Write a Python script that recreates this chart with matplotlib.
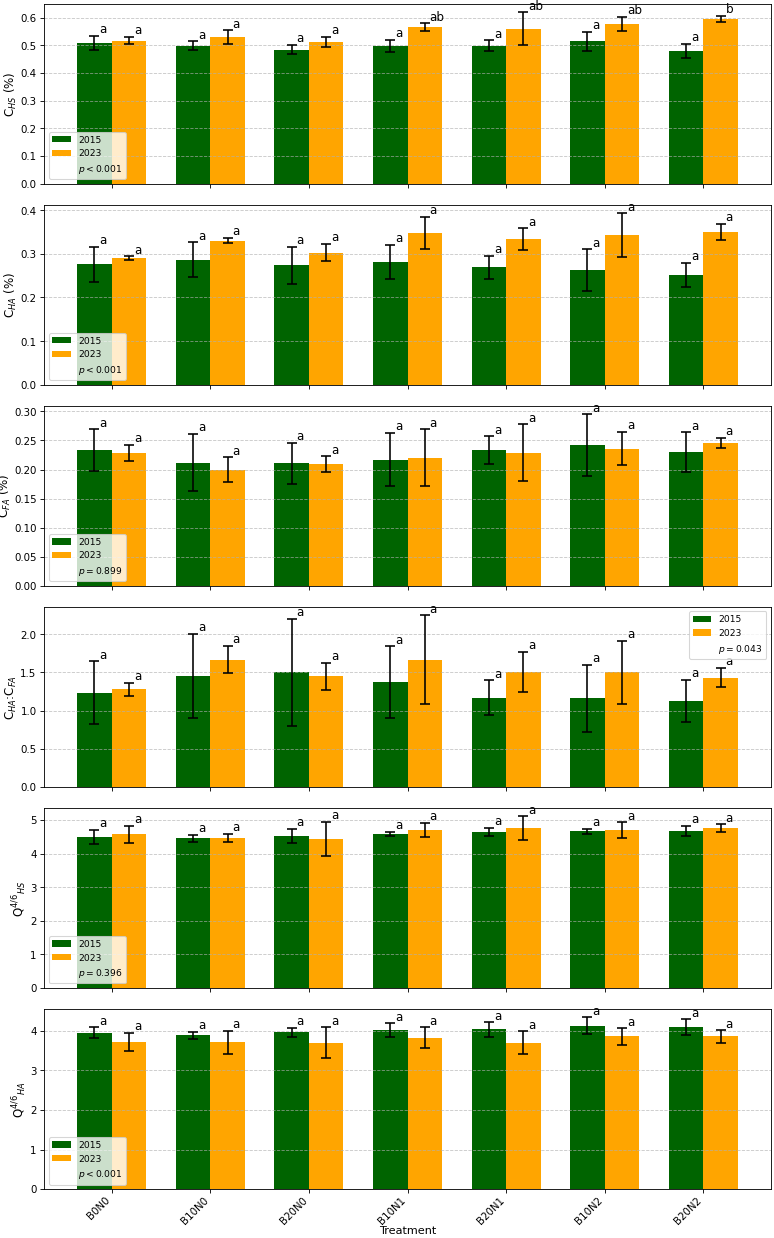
import numpy as np
import matplotlib.pyplot as plt
from matplotlib.lines import Line2D

treatments = ['B0N0', 'B10N0', 'B20N0', 'B10N1', 'B20N1', 'B10N2', 'B20N2']
years = ['2015', '2023']

# C_HS (%)
chs_2015 = [0.510, 0.498, 0.484, 0.498, 0.499, 0.514, 0.480]
chs_2015_err = [0.025, 0.016, 0.017, 0.023, 0.019, 0.034, 0.025]
chs_2023 = [0.517, 0.530, 0.512, 0.566, 0.560, 0.577, 0.595]
chs_2023_err = [0.013, 0.024, 0.019, 0.014, 0.060, 0.026, 0.011]
chs_letters_2015 = ['a', 'a', 'a', 'a', 'a', 'a', 'a']
chs_letters_2023 = ['a', 'a', 'a', 'ab', 'ab', 'ab', 'b']

# C_HA (%)
cha_2015 = [0.276, 0.286, 0.274, 0.282, 0.269, 0.262, 0.252]
cha_2015_err = [0.040, 0.040, 0.042, 0.039, 0.026, 0.048, 0.028]
cha_2023 = [0.290, 0.330, 0.303, 0.348, 0.333, 0.343, 0.350]
cha_2023_err = [0.004, 0.006, 0.020, 0.037, 0.025, 0.050, 0.019]
cha_letters_2015 = ['a'] * 7
cha_letters_2023 = ['a'] * 7

# C_FA (%)
cfa_2015 = [0.233, 0.212, 0.211, 0.217, 0.233, 0.242, 0.230]
cfa_2015_err = [0.036, 0.049, 0.035, 0.046, 0.024, 0.053, 0.034]
cfa_2023 = [0.229, 0.200, 0.209, 0.220, 0.229, 0.236, 0.246]
cfa_2023_err = [0.014, 0.021, 0.014, 0.049, 0.049, 0.029, 0.009]
cfa_letters_2015 = ['a'] * 7
cfa_letters_2023 = ['a'] * 7

# C_HA:C_FA
ratio_2015 = [1.236, 1.458, 1.500, 1.371, 1.171, 1.162, 1.131]
ratio_2015_err = [0.41, 0.55, 0.70, 0.47, 0.225, 0.44, 0.275]
ratio_2023 = [1.279, 1.667, 1.449, 1.667, 1.506, 1.500, 1.432]
ratio_2023_err = [0.088, 0.18, 0.175, 0.58, 0.265, 0.415, 0.126]
ratio_letters_2015 = ['a'] * 7
ratio_letters_2023 = ['a'] * 7

# Q4/6 HS
qhs_2015 = [4.505, 4.457, 4.535, 4.585, 4.653, 4.665, 4.683]
qhs_2015_err = [0.21, 0.107, 0.207, 0.07, 0.12, 0.08, 0.148]
qhs_2023 = [4.576, 4.466, 4.437, 4.704, 4.754, 4.694, 4.763]
qhs_2023_err = [0.255, 0.128, 0.51, 0.207, 0.355, 0.237, 0.11]
qhs_letters_2015 = ['a'] * 7
qhs_letters_2023 = ['a'] * 7

# Q4/6 HA
qha_2015 = [3.95, 3.89, 3.958, 4.016, 4.033, 4.126, 4.092]
qha_2015_err = [0.14, 0.09, 0.12, 0.17, 0.185, 0.21, 0.20]
qha_2023 = [3.723, 3.706, 3.698, 3.823, 3.698, 3.857, 3.857]
qha_2023_err = [0.23, 0.29, 0.39, 0.27, 0.29, 0.21, 0.16]
qha_letters_2015 = ['a'] * 7
qha_letters_2023 = ['a'] * 7

p_labels = ['$p < 0.001$', '$p < 0.001$', '$p = 0.899$',
            '$p = 0.043$', '$p = 0.396$', '$p < 0.001$']
y_labels = ['C$_{HS}$ (%)', 'C$_{HA}$ (%)', 'C$_{FA}$ (%)',
            'C$_{HA}$:C$_{FA}$', 'Q$^{4/6}$$_{HS}$', 'Q$^{4/6}$$_{HA}$']
legend_locs = ['lower left', 'lower left', 'lower left',
               'upper right', 'lower left', 'lower left']

panels = [
    (chs_2015, chs_2015_err, chs_2023, chs_2023_err, chs_letters_2015, chs_letters_2023),
    (cha_2015, cha_2015_err, cha_2023, cha_2023_err, cha_letters_2015, cha_letters_2023),
    (cfa_2015, cfa_2015_err, cfa_2023, cfa_2023_err, cfa_letters_2015, cfa_letters_2023),
    (ratio_2015, ratio_2015_err, ratio_2023, ratio_2023_err, ratio_letters_2015, ratio_letters_2023),
    (qhs_2015, qhs_2015_err, qhs_2023, qhs_2023_err, qhs_letters_2015, qhs_letters_2023),
    (qha_2015, qha_2015_err, qha_2023, qha_2023_err, qha_letters_2015, qha_letters_2023),
]

colors = ['darkgreen', 'orange']
width = 0.35
x = np.arange(len(treatments))

fig, axes = plt.subplots(6, 1, figsize=(10, 16), sharex=True)
fig.subplots_adjust(left=0.057, right=0.996, top=0.9968, bottom=0.0395, hspace=0.116)

for i, ax in enumerate(axes):
    m15, e15, m23, e23, l15, l23 = panels[i]
    b1 = ax.bar(x - width / 2, m15, width, yerr=e15, capsize=5, color=colors[0],
                error_kw=dict(elinewidth=1.5, capthick=1.5, ecolor='black'), label=years[0])
    b2 = ax.bar(x + width / 2, m23, width, yerr=e23, capsize=5, color=colors[1],
                error_kw=dict(elinewidth=1.5, capthick=1.5, ecolor='black'), label=years[1])
    for j in range(len(treatments)):
        ax.text(x[j] - width / 2 + 0.05, m15[j] + e15[j], l15[j], ha='left', va='bottom', fontsize=11)
        ax.text(x[j] + width / 2 + 0.05, m23[j] + e23[j], l23[j], ha='left', va='bottom', fontsize=11)
    top = max(max(np.array(m15) + np.array(e15)), max(np.array(m23) + np.array(e23)))
    ax.set_ylim(0, top * 1.05)
    ax.set_ylabel(y_labels[i], fontsize=11, labelpad=1)
    ax.tick_params(axis='y', labelsize=9.5)
    ax.grid(axis='y', linestyle='--', alpha=0.7)
    p_handle = Line2D([], [], linestyle='none')
    ax.legend([b1, b2, p_handle], [years[0], years[1], p_labels[i]],
              loc=legend_locs[i], fontsize=8.5)

axes[-1].set_xticks(x)
axes[-1].set_xticklabels(treatments, rotation=45, ha='right', fontsize=9.5)
axes[-1].tick_params(axis='x', pad=2)
axes[-1].set_xlabel('Treatment', fontsize=10.5, labelpad=-1)

plt.savefig('out.png', dpi=77.4)
